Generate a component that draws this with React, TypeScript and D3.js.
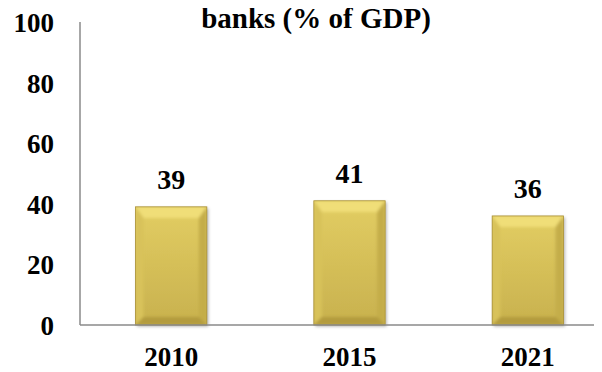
import React from "react";
import * as d3 from "d3";

const categories = ["2010", "2015", "2021"];
const values = [39, 41, 36];
const yTicks = [0, 20, 40, 60, 80, 100];
const title = "banks (% of GDP)";

const W = 602, H = 372;
const left = 80, right = 617, top = 22, bottom = 325;
const FONT = "Liberation Serif";

export default function App() {
  const x = d3.scaleBand().domain(categories).range([left + 2, right]).paddingInner(0.6).paddingOuter(0.3);
  const y = d3.scaleLinear().domain([0, 100]).range([bottom, top]);
  const bw = x.bandwidth();
  const bev = 8;
  return (
    <svg width={W} height={H} fontFamily={FONT} fontWeight={700} style={{ display: "block", margin: "-8px 0 0 -8px", fontFamily: FONT }}>
      <defs>
        <linearGradient id="face" x1="0" y1="0" x2="0" y2="1">
          <stop offset="0" stopColor="#e2cd62" />
          <stop offset="1" stopColor="#c8b14e" />
        </linearGradient>
        <filter id="sh" x="-20%" y="-20%" width="140%" height="140%">
          <feDropShadow dx="1.5" dy="1.5" stdDeviation="1.5" floodColor="#000" floodOpacity="0.3" />
        </filter>
        <filter id="soft" x="-10%" y="-10%" width="120%" height="120%">
          <feGaussianBlur stdDeviation="1.5" />
        </filter>
      </defs>
      <rect width={W} height={H} fill="#fff" />
      <text x={316} y={28} textAnchor="middle" style={{ fontFamily: FONT, fontWeight: 700, fontSize: 29 }}>{title}</text>
      {yTicks.map(t => (
        <text key={t} x={54} y={y(t) + 10} textAnchor="end" style={{ fontFamily: FONT, fontWeight: 700, fontSize: 27 }}>{t}</text>
      ))}
      <line x1={left} x2={left} y1={top} y2={bottom} stroke="#8a8a8a" strokeWidth={1.5} />
      {categories.map((c, i) => {
        const x0 = x(c)!, x1 = x0 + bw, y0 = y(values[i]), y1 = y(0);
        const pts = (a: number[][]) => a.map(p => p.join(",")).join(" ");
        return (
          <g key={c}>
            <g filter="url(#sh)">
              <rect x={x0} y={y0} width={bw} height={y1 - y0} fill="url(#face)" />
            </g>
            <clipPath id={"cp" + i}>
              <rect x={x0} y={y0} width={bw} height={y1 - y0} />
            </clipPath>
            <g clipPath={`url(#cp${i})`} filter="url(#soft)">
              <polygon points={pts([[x0, y0], [x1, y0], [x1 - bev, y0 + bev * 1.4], [x0 + bev, y0 + bev * 1.4]])} fill="#f0de78" />
              <polygon points={pts([[x0, y0], [x0 + bev, y0 + bev * 1.4], [x0 + bev, y1 - bev], [x0, y1]])} fill="#d8c25a" />
              <polygon points={pts([[x1, y0], [x1 - bev, y0 + bev * 1.4], [x1 - bev, y1 - bev], [x1, y1]])} fill="#c4ad4a" />
              <polygon points={pts([[x0, y1], [x0 + bev, y1 - bev], [x1 - bev, y1 - bev], [x1, y1]])} fill="#b39b3e" />
            </g>
            <rect x={x0} y={y0} width={bw} height={y1 - y0} fill="none" stroke="#a88f36" strokeWidth={0.8} />
            <text x={x0 + bw / 2} y={y0 - 18} textAnchor="middle" style={{ fontFamily: FONT, fontWeight: 700, fontSize: 28 }}>{values[i]}</text>
            <text x={x0 + bw / 2} y={366} textAnchor="middle" style={{ fontFamily: FONT, fontWeight: 700, fontSize: 27 }}>{c}</text>
          </g>
        );
      })}
      <line x1={left} x2={W} y1={bottom} y2={bottom} stroke="#8a8a8a" strokeWidth={1.5} />
    </svg>
  );
}
